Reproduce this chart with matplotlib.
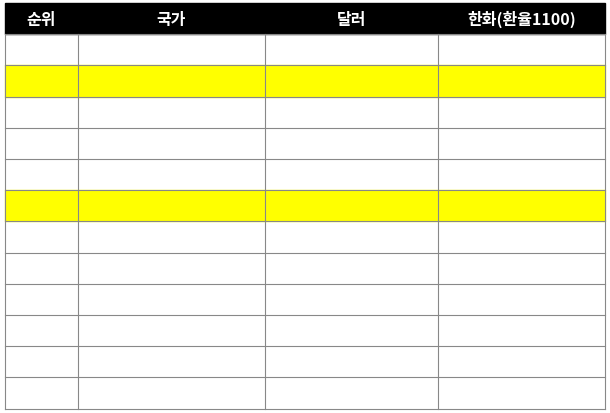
import matplotlib
matplotlib.use("Agg")
import matplotlib.pyplot as plt
from matplotlib.patches import Rectangle
from matplotlib.transforms import Bbox, TransformedBbox

plt.rcParams['font.family'] = ['Noto Sans CJK KR', 'DejaVu Sans']

headers = ["순위", "국가", "달러", "한화(환율1100)"]
ranks = list(range(1, 13))
countries = ["일본", "한국(콘진기준매출액)", "미국", "독일", "프랑스", "한국(COMACON기준 추정치)",
             "영국", "이탈리아", "중국", "호주", "브라질", "인도"]
dollars = [1966000000, 674000000, 635000000, 548000000, 510000000, 319000000,
           303000000, 262000000, 218000000, 107000000, 74000000, 31000000]
won = [2162600000000, 741400000000, 698500000000, 602800000000, 561000000000, 350900000000,
       333300000000, 288200000000, 239800000000, 117700000000, 81400000000, 34100000000]
highlight = [2, 6]

W, H = 610, 414
fig = plt.figure(figsize=(W / 100, H / 100), dpi=100)
ax = fig.add_axes([0, 0, 1, 1])
ax.set_xlim(0, W)
ax.set_ylim(H, 0)
ax.axis("off")

xs = [5, 78, 265, 438, 605]
pads = [0, 0, 22, 8]
top, rh = 4, 31.2
FS = 11.5

def cell_text(txt, c, y0):
    x0, x1 = xs[c], xs[c + 1]
    yc = y0 + rh / 2
    if c >= 2:
        t = ax.text(x1 - pads[c], yc, txt, ha="right", va="center", fontsize=FS)
    else:
        t = ax.text((x0 + x1) / 2, yc, txt, ha="center", va="center", fontsize=FS)
    fig.canvas.draw()
    bb = t.get_window_extent()
    cell = TransformedBbox(Bbox([[x0, y0 + rh], [x1, y0]]), ax.transData)
    if bb.width > cell.width:
        t.set_ha("left")
        t.set_x(x0 + 1)
    t.set_clip_box(cell)
    t.set_clip_on(True)

# header
ax.add_patch(Rectangle((xs[0], top), xs[-1] - xs[0], rh, color="black"))
for c, h in enumerate(headers):
    ax.text((xs[c] + xs[c + 1]) / 2, top + rh / 2, h, ha="center", va="center",
            fontsize=FS, color="white", weight="bold")

for i, r in enumerate(ranks):
    y0 = top + rh * (i + 1)
    if r in highlight:
        ax.add_patch(Rectangle((xs[0], y0), xs[-1] - xs[0], rh, color="#ffff00", zorder=0))
    cell_text(str(r), 0, y0)
    cell_text(countries[i], 1, y0)
    cell_text(f"{dollars[i]:,}", 2, y0)
    cell_text(f"{won[i]:,}", 3, y0)

bottom = top + rh * 13
for i in range(1, 14):
    y = top + rh * i
    ax.plot([xs[0], xs[-1]], [y, y], color="#888888", lw=0.8)
for x in xs:
    ax.plot([x, x], [top + rh, bottom], color="#888888", lw=0.8)

fig.savefig("out.png", dpi=100, facecolor="white")
